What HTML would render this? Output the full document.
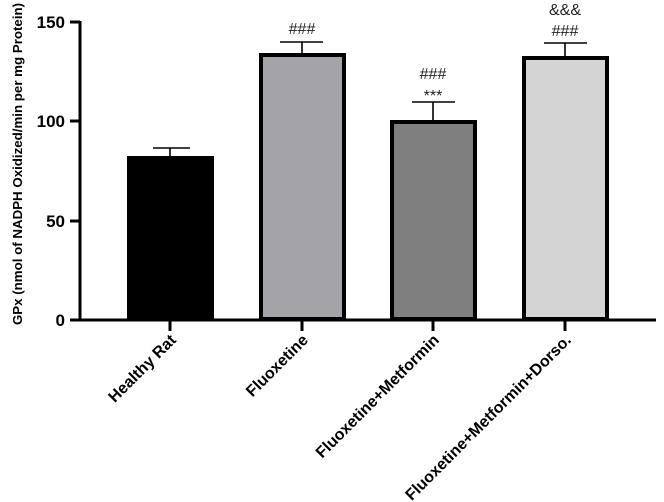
<!DOCTYPE html>
<html><head><meta charset="utf-8"><style>
html,body{margin:0;padding:0;background:#fff;}
svg{display:block;font-family:"Liberation Sans",Arial,sans-serif;}
</style></head><body>
<svg width="664" height="502" viewBox="0 0 664 502">
<g stroke="#000" stroke-width="3" fill="none">
<line x1="80" y1="21" x2="80" y2="321"/>
<line x1="78.5" y1="320" x2="656" y2="320"/>
<line x1="70" y1="22" x2="80" y2="22"/>
<line x1="70" y1="121" x2="80" y2="121"/>
<line x1="70" y1="221" x2="80" y2="221"/>
<line x1="70" y1="320" x2="80" y2="320"/>
<line x1="170" y1="320" x2="170" y2="331"/>
<line x1="302" y1="320" x2="302" y2="331"/>
<line x1="433" y1="320" x2="433" y2="331"/>
<line x1="565" y1="320" x2="565" y2="331"/>
</g>
<g font-size="17" font-weight="bold" text-anchor="end">
<text x="65" y="28">150</text>
<text x="65" y="127">100</text>
<text x="65" y="227">50</text>
<text x="65" y="326">0</text>
</g>
<text transform="translate(22,164) rotate(-90)" text-anchor="middle" font-size="13.3" font-weight="bold">GPx (nmol of NADPH Oxidized/min per mg Protein)</text>
<g stroke="#000" stroke-width="1.6">
<line x1="170" y1="158" x2="170" y2="148"/><line x1="153" y1="148" x2="190" y2="148"/>
<line x1="302" y1="54" x2="302" y2="42"/><line x1="280" y1="42" x2="323" y2="42"/>
<line x1="433" y1="121" x2="433" y2="102"/><line x1="412" y1="102" x2="455" y2="102"/>
<line x1="565" y1="57" x2="565" y2="43"/><line x1="544" y1="43" x2="587" y2="43"/>
</g>
<g stroke="#000" stroke-width="4">
<rect x="129" y="158" width="83" height="161" fill="#000"/>
<rect x="261" y="55" width="83" height="264" fill="#a3a3a8"/>
<rect x="392" y="122" width="83" height="197" fill="#7f7f7f"/>
<rect x="524" y="58" width="83" height="261" fill="#d4d4d4"/>
</g>
<g font-size="16" text-anchor="middle" fill="#222">
<text x="302" y="34">###</text>
<text x="433" y="79">###</text>
<text x="433" y="101">***</text>
<text x="565" y="36">###</text>
<text x="565" y="15">&amp;&amp;&amp;</text>
</g>
<g font-size="16" font-weight="bold" text-anchor="end">
<text transform="translate(177,341) rotate(-45)">Healthy Rat</text>
<text transform="translate(309,341) rotate(-45)">Fluoxetine</text>
<text transform="translate(440,341) rotate(-45)">Fluoxetine+Metformin</text>
<text transform="translate(572,341) rotate(-45)">Fluoxetine+Metformin+Dorso.</text>
</g>
</svg>
</body></html>
